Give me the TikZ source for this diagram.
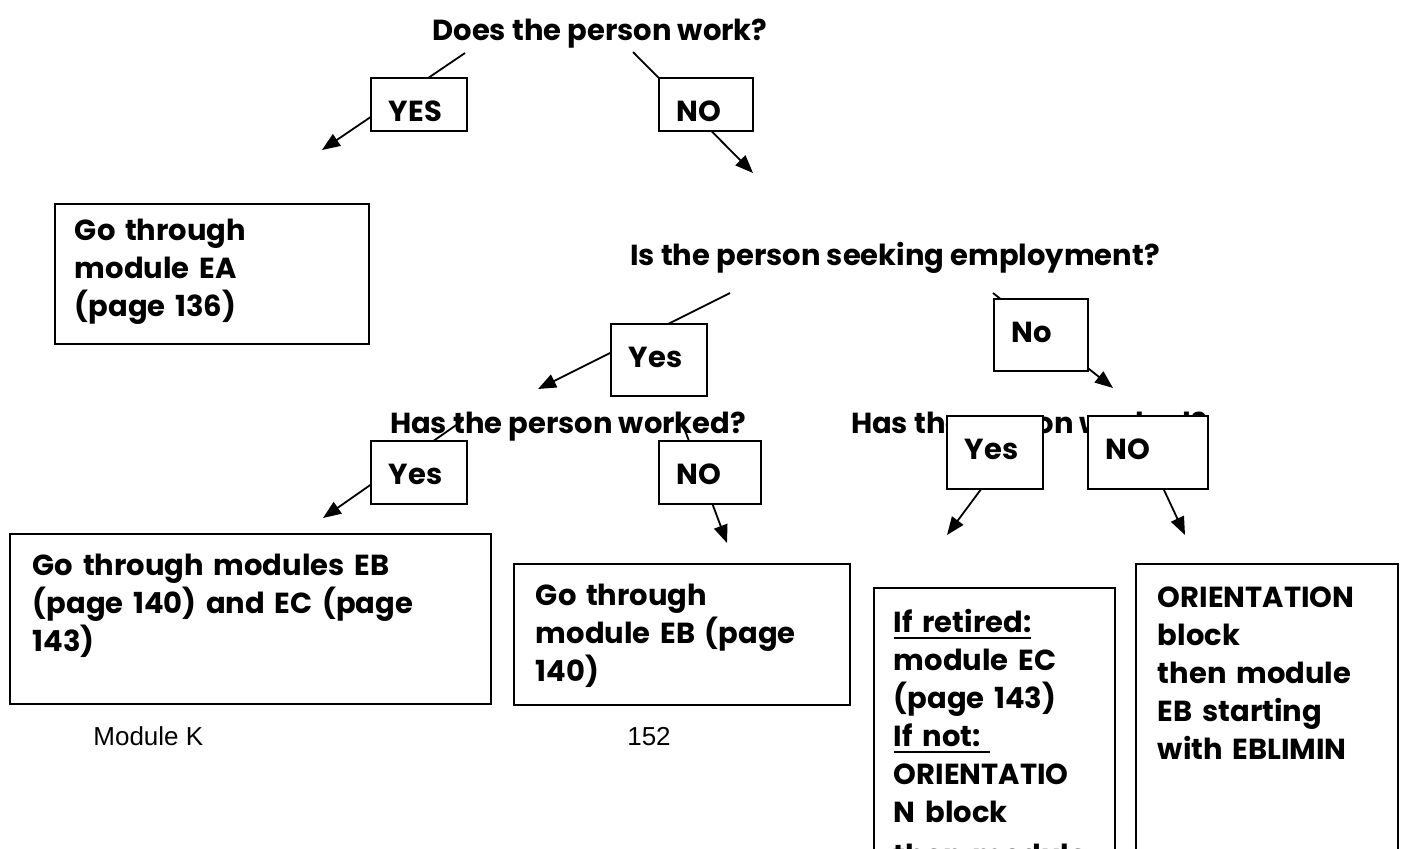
\documentclass[tikz,border=0pt]{standalone}
\usepackage{fontspec}
\setmainfont{Poppins}
\newfontfamily\arialfont{Liberation Sans}
\usetikzlibrary{arrows.meta}
\hyphenpenalty=10000
\exhyphenpenalty=10000
\newcommand\thickul[1]{\leavevmode\setbox0\hbox{#1}\rlap{\vrule height -2.2pt depth 3.2pt width \wd0}\box0}
\begin{document}
\begin{tikzpicture}[x=0.5pt,y=-0.5pt,
  every node/.style={font=\bfseries\fontsize{14.5}{19}\selectfont},
  bx/.style={draw, fill=white, line width=0.9pt, inner ysep=0pt, anchor=north west, align=left},
  lbl/.style={bx, inner xsep=9pt, text height=22pt},
  qtext/.style={anchor=base, inner sep=0pt},
  conn/.style={line width=0.9pt, -{Triangle[length=9pt,width=7pt]}},
  foot/.style={font=\arialfont\fontsize{13}{15}\selectfont, inner sep=0pt}
]
\path[use as bounding box] (0,0) rectangle (1406,848);
\clip (0,0) rectangle (1406,848);

% questions
\node[qtext] (q1) at (600,40) {Does the person work?};
\node[qtext] (q2) at (895,265) {Is the person seeking employment?};
\node[qtext] (q3) at (568,433) {Has the person worked?};
\node[qtext] (q4) at (1029,433) {Has the person worked?};

% connector end points
\coordinate (c1s) at (465,53);   \coordinate (c1e) at (322,150);
\coordinate (c2s) at (633,52);   \coordinate (c2e) at (753,173);
\coordinate (c3s) at (730,293);  \coordinate (c3e) at (538,389);
\coordinate (c4s) at (993,293);  \coordinate (c4e) at (1113,388);
\coordinate (c5s) at (462,421);  \coordinate (c5e) at (323,518);
\coordinate (c6s) at (683,425);  \coordinate (c6e) at (727,543);
\coordinate (c7s) at (1025,430); \coordinate (c7e) at (947,535);
\coordinate (c8s) at (1136,430); \coordinate (c8e) at (1185,535);

\draw[conn] (c1s) -- (c1e);
\draw[conn] (c2s) -- (c2e);
\draw[conn] (c3s) -- (c3e);
\draw[conn] (c4s) -- (c4e);
\draw[conn] (c5s) -- (c5e);
\draw[conn] (c6s) -- (c6e);
\draw[conn] (c7s) -- (c7e);
\draw[conn] (c8s) -- (c8e);

% label boxes
\node[lbl, text width=30pt, text depth=4.5pt] (yes1) at (370,77) {YES};
\node[lbl, text width=29pt, text depth=4.5pt] (no1) at (658,77) {NO};
\node[lbl, text width=30pt, text depth=14pt] (yes2) at (610,323) {Yes};
\node[lbl, text width=29pt, text depth=14pt] (no2) at (993,298) {No};
\node[lbl, text width=30pt, text depth=9.5pt] (yes3) at (370,440) {Yes};
\node[lbl, text width=33pt, text depth=9.5pt] (no3) at (658,440) {NO};
\node[lbl, text width=30pt, text depth=14.5pt] (yes4) at (946,415) {Yes};
\node[lbl, text width=42pt, text depth=14.5pt] (no4) at (1087,415) {NO};

% result boxes
\node[bx, inner xsep=10pt, text width=137pt, text height=18.5pt, text depth=51.5pt] (ea) at (54,203)
  {Go through\\module EA\\(page 136)};
\node[bx, inner xsep=11.5pt, text width=217.5pt, text height=21pt, text depth=64pt] (ebec) at (9,533)
  {Go through modules EB\\(page 140) and EC (page\\143)};
\node[bx, inner xsep=11pt, text width=146pt, text height=21pt, text depth=49.5pt] (eb) at (513,563)
  {Go through\\module EB (page\\140)};
\node[bx, inner xsep=10pt, text width=100.5pt, text height=22.5pt, text depth=127.5pt] (ret) at (873,587)
  {\thickul{If retired:}\\module EC\\(page 143)\\\thickul{If not:\ }\\ORIENTATIO\\N block\\[2.5pt]then module};
\node[bx, inner xsep=11pt, text width=109pt, text height=22pt, text depth=150pt] (ori) at (1135,563)
  {ORIENTATION\\block\\then module\\EB starting\\with EBLIMIN};

% footer
\node[foot, anchor=base west] (fm) at (93,745) {Module K};
\node[foot, anchor=base] (fp) at (649,745) {152};
\end{tikzpicture}
\end{document}
